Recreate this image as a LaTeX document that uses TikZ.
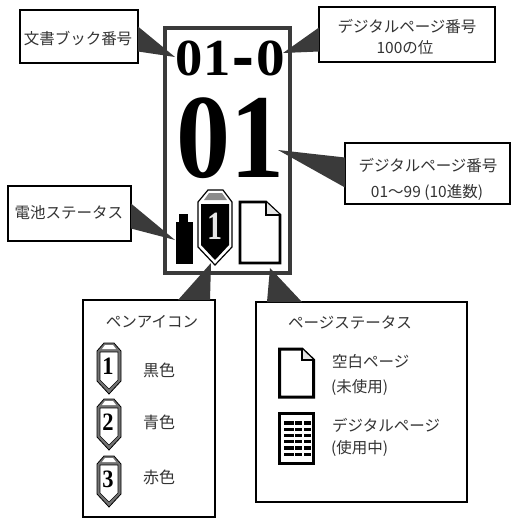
\documentclass[tikz,border=0pt]{standalone}
\usepackage{fontspec}
\usepackage{graphicx}
\setmainfont{Noto Sans CJK JP}
\newfontfamily\digitfont{Liberation Serif}[BoldFont={Liberation Serif Bold}]
\usetikzlibrary{calc}
\definecolor{wedgegray}{HTML}{3A3A3A}
\tikzset{
  x=1pt,y=-1pt,
  box/.style={draw=black,line width=1.6pt,fill=white,inner sep=0pt,outer sep=0pt},
  wedge/.style={fill=wedgegray,draw=none},
  label/.style={inner sep=0pt,font=\fontsize{15.5}{15.5}\selectfont,text=black!80},
  leftlabel/.style={label,anchor=west},
  frame/.style={draw=wedgegray,line width=3.6pt},
  pageicon/.style={draw=black,line width=2.6pt,fill=white,line join=miter},
  booktext/.style={inner sep=0pt,anchor=base,font=\digitfont\bfseries\fontsize{52}{52}\selectfont}
}
\newcommand{\legendpen}[3]{%
  \begin{scope}[shift={(#1,#2)}]
    \fill[black!55,draw=black,line width=.8pt] (-12,8)--(-5,0)--(5,0)--(12,8)--(12,38)--(0,51)--(-12,38)--cycle;
    \fill[white,draw=black,line width=.6pt] (-9,9)--(9,9)--(9,37)--(0,46)--(-9,37)--cycle;
    \fill[white] (-4,2)--(4,2)--(7,6)--(-7,6)--cycle;
    \node[inner sep=0pt,font=\digitfont\bfseries\fontsize{25}{25}\selectfont] (pen#3) at (-1,23) {\scalebox{.9}[1]{#3}};
  \end{scope}}
\begin{document}
\begin{tikzpicture}
\useasboundingbox (0,0) rectangle (518,523);
% device
\draw[frame] (165,28) rectangle (290,273);
\node[booktext] (bookA) at (203,75) {\scalebox{1.05}[1]{01}};
\node[booktext] (bookB) at (243.5,81) {\scalebox{1.25}[1.6]{-}};
\node[booktext] (bookC) at (271,75) {\scalebox{1.1}[1]{0}};
\node[inner sep=0pt,font=\digitfont\bfseries\fontsize{120}{120}\selectfont] (page) at (230,138) {\scalebox{.9}[1]{01}};
% battery
\fill (176,222) rectangle (193,264);
\fill (179,214) rectangle (188,222);
% current pen
\fill[white,draw=black,line width=1.2pt] (198,202)--(208,190)--(223,190)--(232,202)--(232,247)--(215,265)--(198,247)--cycle;
\fill[black] (201,204)--(229,204)--(229,245)--(215,260)--(201,245)--cycle;
\fill[black!45] (209,193)--(222,193)--(227,200)--(204,200)--cycle;
\node[inner sep=0pt,text=black!10,font=\digitfont\bfseries\fontsize{40}{40}\selectfont] (penmain) at (215,226) {\scalebox{.75}[1]{1}};
% blank page in device
\draw[pageicon] (240,202)--(266,202)--(280,215)--(280,263)--(240,263)--cycle;
\draw[pageicon,line width=2pt,fill=black!10] (266,202)--(266,215)--(280,215);
% boxes
\node[box,minimum width=118pt,minimum height=53pt] (bookbox) at (79,36.5) {};
\node[box,minimum width=176pt,minimum height=55pt] (hundredbox) at (407,34.5) {};
\node[box,minimum width=165pt,minimum height=61pt] (digitbox) at (427.5,173.5) {};
\node[box,minimum width=123pt,minimum height=55pt] (batbox) at (69.5,213.5) {};
\node[box,minimum width=132pt,minimum height=217pt] (penbox) at (149,408.5) {};
\node[box,minimum width=211pt,minimum height=200pt] (statusbox) at (361.5,402) {};
% callouts
\coordinate (tipbook) at (175,57);
\coordinate (tiphundred) at (283,53);
\coordinate (tipdigit) at (278,150);
\coordinate (tipbat) at (175,240);
\coordinate (tippen) at (211,263);
\coordinate (tipstatus) at (270,268);
\fill[wedge] ($(bookbox.east)+(0,-10)$)--(tipbook)--($(bookbox.east)+(0,15)$)--cycle;
\fill[wedge] ($(hundredbox.west)+(0,-7)$)--(tiphundred)--($(hundredbox.west)+(0,17)$)--cycle;
\fill[wedge] ($(digitbox.west)+(0,-16)$)--(tipdigit)--($(digitbox.west)+(0,14)$)--cycle;
\fill[wedge] ($(batbox.east)+(0,-10)$)--(tipbat)--($(batbox.east)+(0,15)$)--cycle;
\fill[wedge] (penbox.north -| 178,0)--(tippen)--(penbox.north -| 210,0)--cycle;
\fill[wedge] (statusbox.north -| 267,0)--(tipstatus)--(statusbox.north -| 302,0)--cycle;
% box texts
\node[label] (t1) at (78,38) {文書ブック番号};
\node[label] (t2) at (407,27) {デジタルページ番号};
\node[label] (t3) at (405,48) {100の位};
\node[label] (t4) at (428,166) {デジタルページ番号};
\node[label] (t5) at (427,192) {01〜99 (10進数)};
\node[label] (t6) at (69,213) {電池ステータス};
\node[label] (t7) at (152,322) {ペンアイコン};
\node[label,font=\fontsize{16}{16}\selectfont] (t8) at (159,370) {黒色};
\node[label,font=\fontsize{16}{16}\selectfont] (t9) at (159,422) {青色};
\node[label,font=\fontsize{16}{16}\selectfont] (t10) at (159,477) {赤色};
\node[label] (t11) at (350,323) {ページステータス};
\node[leftlabel] (t12) at (332,362) {空白ページ};
\node[leftlabel] (t13) at (331,387) {(未使用)};
\node[leftlabel] (t14) at (332,425) {デジタルページ};
\node[leftlabel] (t15) at (331,448) {(使用中)};
% legend pens
\legendpen{109}{343}{1}
\legendpen{109}{399}{2}
\legendpen{109}{456}{3}
% legend pages
\draw[pageicon,line width=3pt] (279.5,349)--(302,349)--(313.5,360)--(313.5,397)--(279.5,397)--cycle;
\draw[pageicon,line width=2pt,fill=black!10] (302,349)--(302,360)--(313.5,360);
\draw[pageicon,line width=3pt] (279.5,413)--(313.5,413)--(313.5,463)--(279.5,463)--cycle;
\foreach \r in {423,429.2,435.5,441.8,448,454.2}{
  \fill (284,\r-1.6) rectangle (293.5,\r+1.6);
  \fill (295,\r-1.6) rectangle (302,\r+1.6);
  \fill (303.5,\r-1.6) rectangle (311,\r+1.6);
}
\end{tikzpicture}
\end{document}
